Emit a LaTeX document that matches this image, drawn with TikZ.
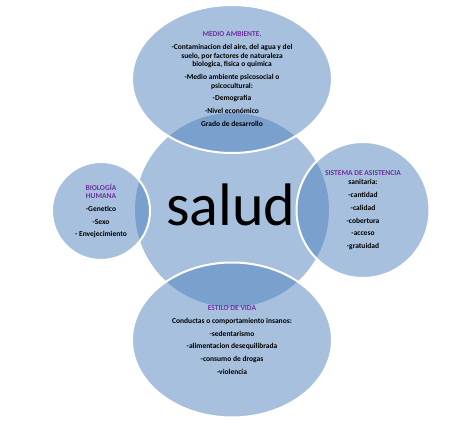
\documentclass[tikz,border=0pt]{standalone}
\usepackage{fontspec}
\setmainfont{Carlito}
\usetikzlibrary{shapes.geometric}
\definecolor{venblue}{RGB}{79,129,189}
\definecolor{titlepurple}{RGB}{112,48,160}
\newcommand{\bubtitle}[1]{{\color{titlepurple}#1}}
\begin{document}
\begin{tikzpicture}[x=1pt, y=-1pt,
    bubble/.style={ellipse, fill=venblue, fill opacity=0.5, text opacity=1, inner sep=0pt, align=center,
      font=\fontsize{7.5}{8.7}\selectfont\bfseries},
    ring/.style={bubble, draw=white, draw opacity=1, line width=2pt}]
    \useasboundingbox (0,0) rectangle (474,425);

    % centro
    \node[bubble, minimum width=194pt, minimum height=194pt] (salud) at (232,210) {};
    \node[font=\fontsize{60}{60}\selectfont, anchor=base] (saludtxt) at (231,225) {salud};

    % circulos de alrededor
    \node[ring, minimum width=200pt, minimum height=148pt] (medio) at (232,79) {%
      \bubtitle{MEDIO AMBIENTE.}\\[4pt]
      -Contaminacion del aire, del agua y del\\ suelo, por factores de naturaleza\\ biologica, fisica o quimica\\[4pt]
      -Medio ambiente psicosocial o\\ psicocultural:\\[4pt]
      -Demografia\\[4pt]
      -Nivel económico\\[4pt]
      Grado de desarrollo};
    \node[ring, minimum width=98pt, minimum height=98pt] (bio) at (101,211) {%
      \bubtitle{BIOLOGÍA}\\ \bubtitle{HUMANA}\\[4pt]
      -Genetico\\[4pt]
      -Sexo\\[4pt]
      - Envejecimiento};
    \node[ring, minimum width=133pt, minimum height=136pt] (sist) at (363,210) {%
      \bubtitle{SISTEMA DE ASISTENCIA}\\[1pt]
      sanitaria:\\[4pt]
      -cantidad\\[4pt]
      -calidad\\[4pt]
      -cobertura\\[4pt]
      -acceso\\[4pt]
      -gratuidad};
    \node[ring, minimum width=200pt, minimum height=155pt] (estilo) at (232,340) {%
      \bubtitle{ESTILO DE VIDA}\\[4pt]
      Conductas o comportamiento insanos:\\[4pt]
      -sedentarismo\\[4pt]
      -alimentacion desequilibrada\\[4pt]
      -consumo de drogas\\[4pt]
      -violencia};
\end{tikzpicture}
\end{document}
